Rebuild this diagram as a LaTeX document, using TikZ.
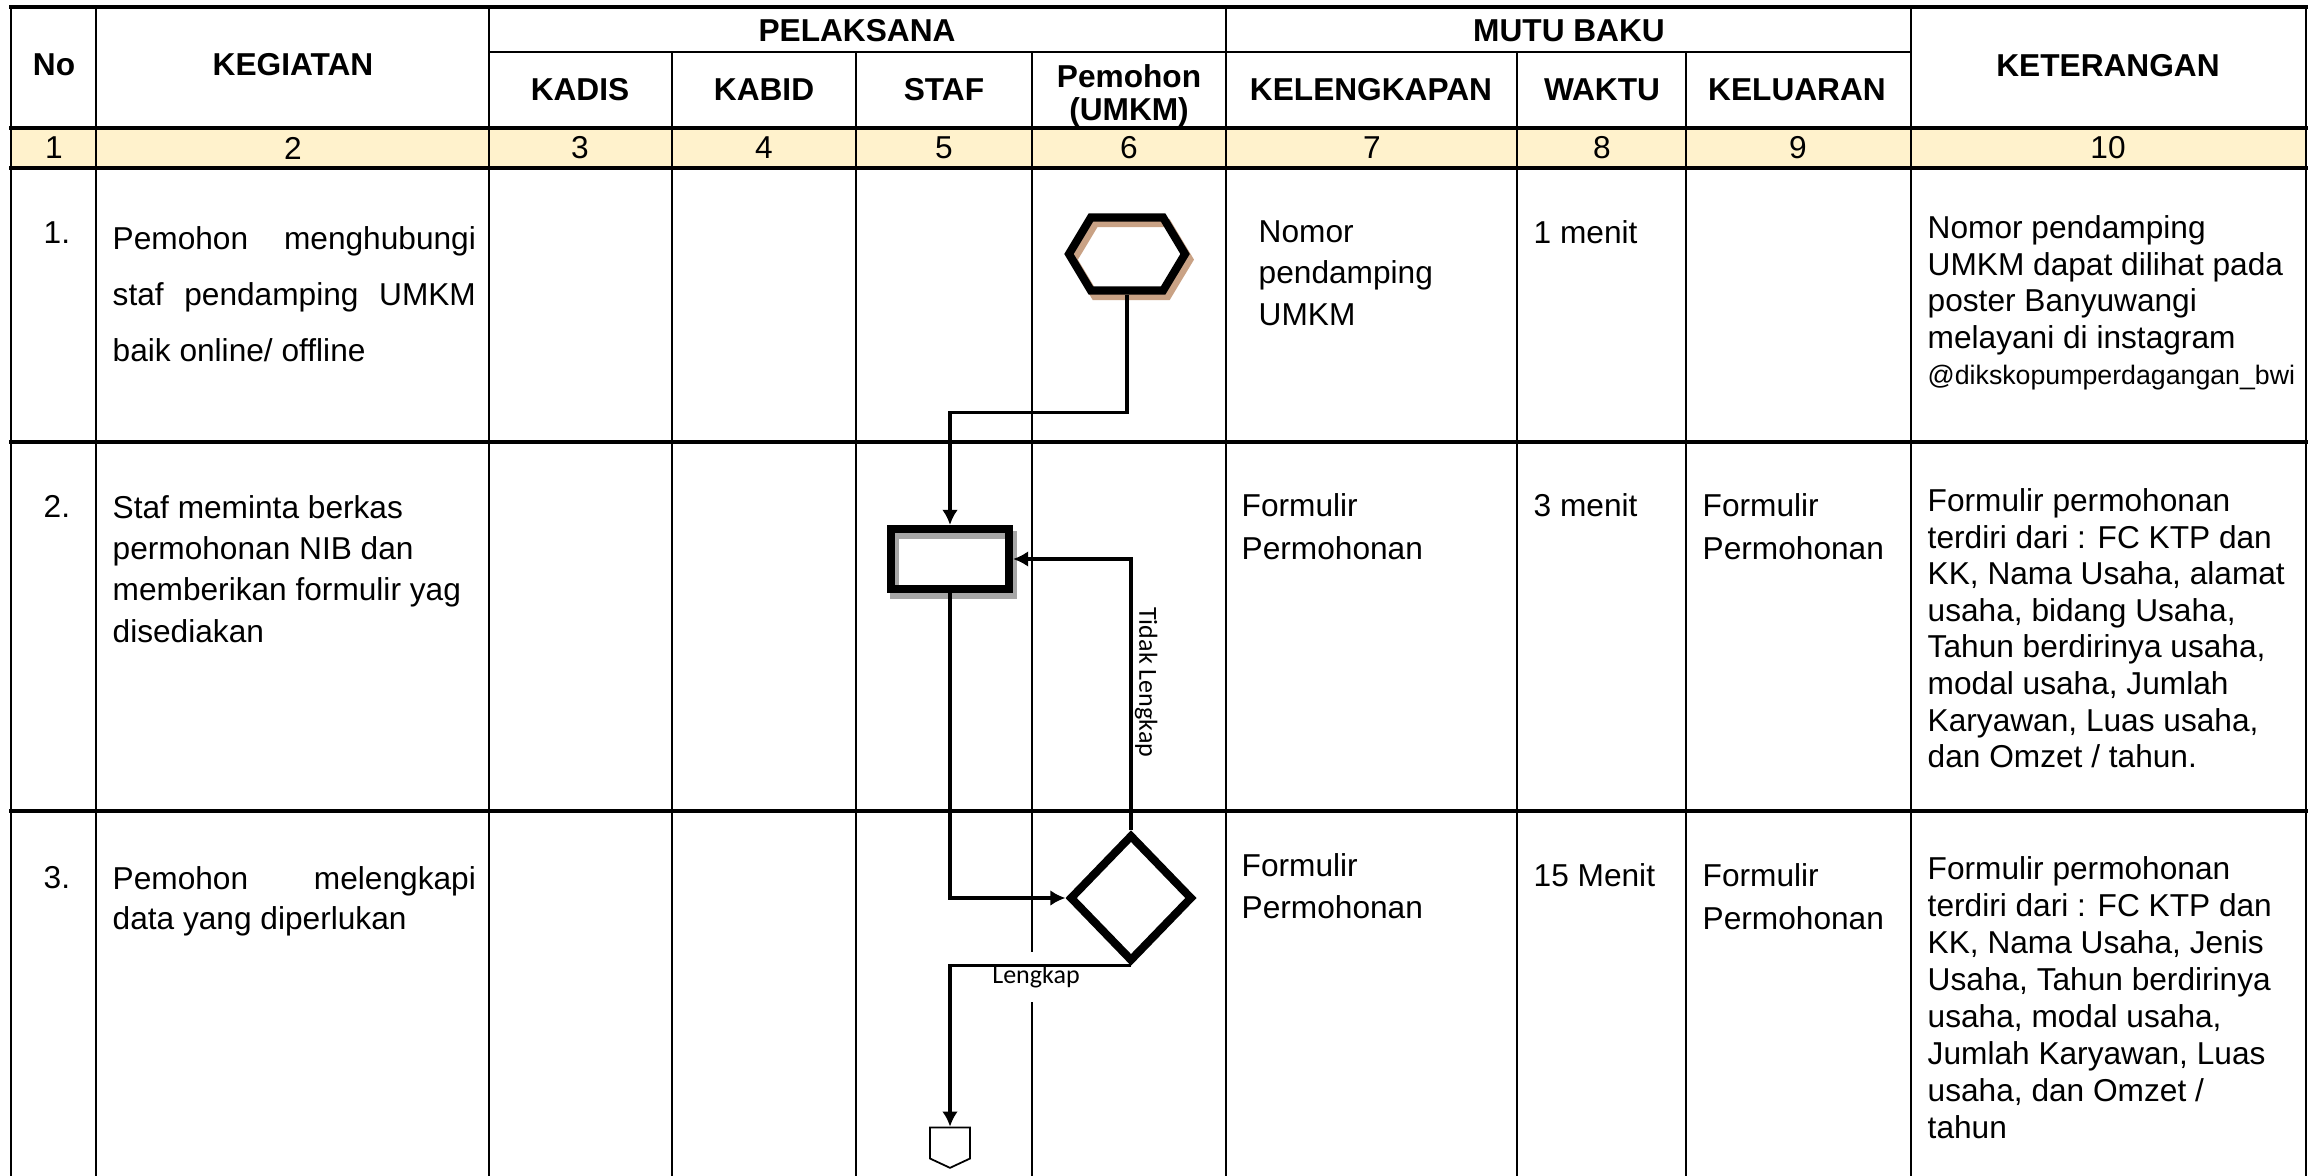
\documentclass[tikz,border=0pt]{standalone}
\usepackage{fontspec}
\setmainfont{Liberation Sans}
\newfontfamily\calibri{Carlito}
\usepackage{xcolor}
\usetikzlibrary{arrows.meta, shapes.geometric, shapes.symbols}
\definecolor{kuning}{HTML}{FFF2CC}
\definecolor{bayangcoklat}{HTML}{C9A285}
\definecolor{bayangabu}{HTML}{A6A6A6}
\hyphenpenalty=10000

\begin{document}
\begin{tikzpicture}[
      x=0.01cm, y=-0.01cm,
      >={Latex[length=4.3pt,width=4.5pt]},
      garis/.style={line width=0.65pt},
      garisbaris/.style={line width=0.9pt, line cap=rect},
      judul/.style={font=\bfseries\fontsize{9}{9.4}\selectfont, align=center, inner sep=0pt},
      nomor/.style={font=\fontsize{9}{10}\selectfont, inner sep=0pt},
      isi/.style={anchor=north west, inner sep=0pt, align=left, font=\fontsize{9}{#1}\selectfont},
      isi/.default=11.8,
      kegiatan/.style={isi=#1, text width=3.63cm, align=justify},
      kegiatan/.default=11.8,
      hexa/.style={signal, signal to=east and west, signal pointer angle=118, draw, line width=2.3pt,
        minimum width=1.16cm, minimum height=0.73cm, inner sep=0pt,
        preaction={draw=bayangcoklat, transform canvas={shift={(1.2pt,-1.6pt)}}}},
      proses/.style={rectangle, draw, line width=2.3pt, minimum width=1.18cm, minimum height=0.60cm, inner sep=0pt,
        preaction={draw=bayangabu, transform canvas={shift={(1pt,-1.6pt)}}}},
      keputusan/.style={diamond, aspect=1, draw, line width=2.3pt, minimum width=1.23cm, minimum height=1.27cm, inner sep=0pt},
      konektor/.style={signal, signal to=south, signal pointer angle=130, draw, line width=0.5pt,
        minimum width=0.40cm, minimum height=0.31cm, inner sep=0pt},
      alur/.style={->, line width=1pt},
      lbl/.style={font=\calibri\fontsize{7.4}{9}\selectfont, inner sep=0.6pt}
    ]

    \useasboundingbox (0,0) rectangle (2315,1176);
    \fill[white] (0,0) rectangle (2315,1176);

    % ---- Tabel ----
    \fill[kuning] (11,128) rectangle (2306,168);
    \foreach \x in {11, 96, 489, 1226, 1911, 2306}
      \draw[garis] (\x,7) -- (\x,1176);
    \foreach \x in {672, 856, 1032, 1517, 1686}
      \draw[garis] (\x,52) -- (\x,1176);
    \draw[garis] (489,52) -- (1911,52);
    \foreach \y in {7, 128, 168, 442, 811}
      \draw[garisbaris] (11,\y) -- (2306,\y);

    % ---- Judul kolom ----
    \node[judul] (hNo)     at (54,65)   {No};
    \node[judul] (hKeg)    at (293,65)  {KEGIATAN};
    \node[judul] (hPel)    at (857,31)  {PELAKSANA};
    \node[judul] (hKadis)  at (580,90)  {KADIS};
    \node[judul] (hKabid)  at (764,90)  {KABID};
    \node[judul] (hStaf)   at (944,90)  {STAF};
    \node[judul] (hPem)    at (1129,96) {Pemohon\\(UMKM)};
    \node[judul] (hMutu)   at (1569,31) {MUTU BAKU};
    \node[judul] (hKel)    at (1371,90) {KELENGKAPAN};
    \node[judul] (hWaktu)  at (1602,90) {WAKTU};
    \node[judul] (hKeluar) at (1797,90) {KELUARAN};
    \node[judul] (hKet)    at (2108,66) {KETERANGAN};

    \foreach \x/\n in {54/1, 293/2, 580/3, 764/4, 944/5, 1129/6, 1372/7, 1602/8, 1798/9, 2108/10}
      \node[nomor] (n\n) at (\x,148) {\n};

    % ---- Baris 1 ----
    \node[isi] (no1) at (43,221) {1.};
    \node[kegiatan=15.9] (keg1) at (112,226) {Pemohon menghubungi\linebreak staf pendamping UMKM\linebreak baik online/ offline};
    \node[isi=11.8] (kel1) at (1258,220) {Nomor\\pendamping\\UMKM};
    \node[isi] (wkt1) at (1533,220) {1 menit};
    \node[isi=10.4] (ket1) at (1927,215) {Nomor pendamping\\UMKM dapat dilihat pada\\poster Banyuwangi\\melayani di instagram\\{\fontsize{7.6}{9}\selectfont @dikskopumperdagangan\_bwi}};

    % ---- Baris 2 ----
    \node[isi] (no2) at (43,495) {2.};
    \node[isi=11.7] (keg2) at (112,495) {Staf meminta berkas\\permohonan NIB dan\\memberikan formulir yag\\disediakan};
    \node[isi=12.2] (kel2) at (1241,493) {Formulir\\Permohonan};
    \node[isi] (wkt2) at (1533,493) {3 menit};
    \node[isi=12.2] (klr2) at (1702,493) {Formulir\\Permohonan};
    \node[isi=10.4] (ket2) at (1927,488) {Formulir permohonan\\terdiri dari : FC KTP dan\\KK, Nama Usaha, alamat\\usaha, bidang Usaha,\\Tahun berdirinya usaha,\\modal usaha, Jumlah\\Karyawan, Luas usaha,\\dan Omzet / tahun.};

    % ---- Baris 3 ----
    \node[isi] (no3) at (43,866) {3.};
    \node[kegiatan=11.4] (keg3) at (112,866) {Pemohon melengkapi\linebreak data yang diperlukan};
    \node[isi=11.9] (kel3) at (1241,853) {Formulir\\Permohonan};
    \node[isi] (wkt3) at (1533,863) {15 Menit};
    \node[isi=12.2] (klr3) at (1702,863) {Formulir\\Permohonan};
    \node[isi=10.5] (ket3) at (1927,856) {Formulir permohonan\\terdiri dari : FC KTP dan\\KK, Nama Usaha, Jenis\\Usaha, Tahun berdirinya\\usaha, modal usaha,\\Jumlah Karyawan, Luas\\usaha, dan Omzet /\\tahun};

    % ---- Bagan alir ----
    \node[lbl, fill=white, inner ysep=4pt] (lengkap) at (1036,977) {Lengkap};

    \node[hexa]      (hubungi) at (1127,254) {};
    \node[proses]    (berkas)  at (950,559)  {};
    \node[keputusan] (cek)     at (1131,898) {};
    \node[konektor]  (sambung) at (950,1143) {};

    \draw[alur] (hubungi.south) -- ++(0,118) -| (berkas.north);
    \draw[alur] (berkas.south) |- (cek.west);
    \draw[alur] (cek.north) |- node[lbl, rotate=-90, anchor=south, pos=0.273]{Tidak Lengkap} (berkas.east);
    \draw[alur] (cek.south) -| (sambung.north);

    \end{tikzpicture}
\end{document}
